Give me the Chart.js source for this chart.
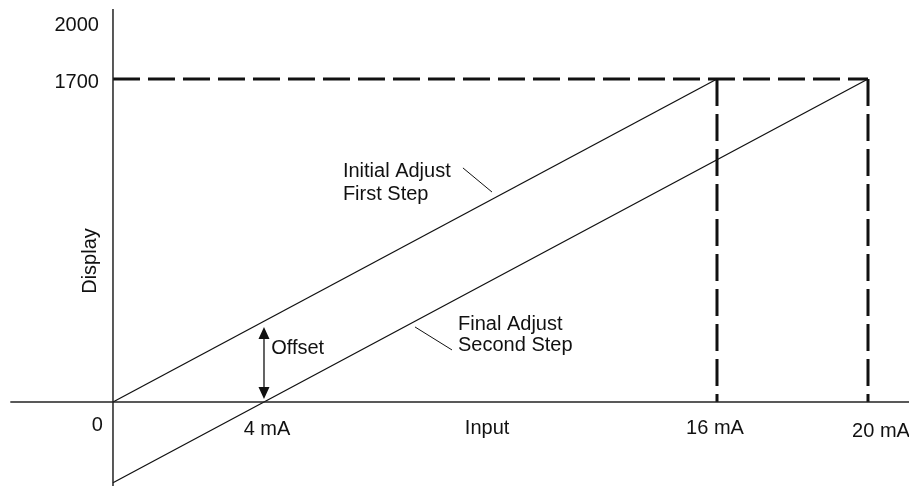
<!DOCTYPE html>
<html>
<head>
<meta charset="utf-8">
<title>Display vs Input</title>
<script src="https://cdn.jsdelivr.net/npm/chart.js@4/dist/chart.umd.min.js"></script>
<style>
  html, body { margin: 0; padding: 0; background: #fff; }
  #chart { display: block; }
</style>
</head>
<body>
<canvas id="chart" width="909" height="486"></canvas>
<script>
// ── Data (input in mA, display counts) ───────────────────────────────────────
const initialAdjust = [{ x: 0, y: 0 }, { x: 16, y: 1700 }];
const finalAdjust = [{ x: 0, y: -425 }, { x: 4, y: 0 }, { x: 20, y: 1700 }];
const spanLine = [{ x: 0, y: 1700 }, { x: 20, y: 1700 }];
const drop16 = [{ x: 16, y: 1700 }, { x: 16, y: 0 }];
const drop20 = [{ x: 20, y: 1700 }, { x: 20, y: 0 }];
const yAxisLine = [{ x: 0, y: -442 }, { x: 0, y: 2068 }];
const xAxisLine = [{ x: -2.72, y: 0 }, { x: 21.1, y: 0 }];

const yTickValues = [2000, 1700];
const xTickValues = [4, 16, 20];
const xTickLabels = ['4 mA', '16 mA', '20 mA'];

// callout leaders and notes, in data units
const leaderInitial = [{ x: 9.27, y: 1232 }, { x: 10.04, y: 1105 }];
const leaderFinal = [{ x: 8.0, y: 395 }, { x: 8.98, y: 274 }];
const offsetArrow = { x: 4, top: 395, bottom: 16 };
const notes = [
  { x: 6.09, y: 1184, text: 'Initial Adjust' },
  { x: 6.09, y: 1063, text: 'First Step' },
  { x: 9.14, y: 379, text: 'Final Adjust' },
  { x: 9.14, y: 268, text: 'Second Step' },
  { x: 4.19, y: 253, text: 'Offset' },
];

const FONT = '20px "Liberation Sans", Arial, sans-serif';
const INK = '#111';

// ── Text, ticks and arrow drawn on top of the plot ───────────────────────────
const overlay = {
  id: 'overlay',
  afterDatasetsDraw(chart) {
    const { ctx, scales: { x, y } } = chart;
    const x0 = x.getPixelForValue(0);
    const y0 = y.getPixelForValue(0);
    ctx.save();
    ctx.font = FONT;
    ctx.fillStyle = INK;

    // y ticks
    ctx.textAlign = 'right';
    ctx.textBaseline = 'middle';
    yTickValues.forEach((v) => ctx.fillText(String(v), x0 - 14, y.getPixelForValue(v) + 3));

    // origin and x ticks
    ctx.textBaseline = 'alphabetic';
    ctx.fillText('0', x0 - 10, y0 + 29);
    ctx.textAlign = 'center';
    const nudge = { 4: 3, 16: -2, 20: 13 };
    const drop = { 4: 33, 16: 32, 20: 35 };
    xTickValues.forEach((v, i) => {
      ctx.fillText(xTickLabels[i], x.getPixelForValue(v) + nudge[v], y0 + drop[v]);
    });
    ctx.fillText('Input', x.getPixelForValue(9.91), y0 + 32);

    // y title
    ctx.save();
    ctx.translate(x0 - 23, y.getPixelForValue(742));
    ctx.rotate(-Math.PI / 2);
    ctx.textBaseline = 'middle';
    ctx.fillText('Display', 0, 0);
    ctx.restore();

    // callout notes
    ctx.textAlign = 'left';
    ctx.textBaseline = 'alphabetic';
    notes.forEach((n) => ctx.fillText(n.text, x.getPixelForValue(n.x), y.getPixelForValue(n.y)));

    // offset double arrow
    const ax = x.getPixelForValue(offsetArrow.x);
    const at = y.getPixelForValue(offsetArrow.top);
    const ab = y.getPixelForValue(offsetArrow.bottom);
    ctx.strokeStyle = INK;
    ctx.lineWidth = 1.3;
    ctx.beginPath();
    ctx.moveTo(ax, at + 8);
    ctx.lineTo(ax, ab - 8);
    ctx.stroke();
    ctx.beginPath();
    ctx.moveTo(ax, at);
    ctx.lineTo(ax - 5.5, at + 12);
    ctx.lineTo(ax + 5.5, at + 12);
    ctx.closePath();
    ctx.moveTo(ax, ab);
    ctx.lineTo(ax - 5.5, ab - 12);
    ctx.lineTo(ax + 5.5, ab - 12);
    ctx.closePath();
    ctx.fill();
    ctx.restore();
  },
};

const line = (data, extra) => Object.assign({
  data, showLine: true, borderColor: INK, borderWidth: 1.3,
  pointRadius: 0, fill: false, clip: false,
}, extra);

new Chart(document.getElementById('chart'), {
  type: 'scatter',
  data: {
    datasets: [
      line(yAxisLine, { borderColor: '#222', borderWidth: 1.5 }),
      line(xAxisLine, { borderColor: '#222', borderWidth: 1.5 }),
      line(initialAdjust),
      line(finalAdjust),
      line(spanLine, { borderWidth: 3, borderDash: [27, 8] }),
      line(drop16, { borderWidth: 3, borderDash: [27, 8] }),
      line(drop20, { borderWidth: 3, borderDash: [27, 8] }),
      line(leaderInitial, { borderWidth: 1 }),
      line(leaderFinal, { borderWidth: 1 }),
    ],
  },
  options: {
    responsive: false,
    animation: false,
    devicePixelRatio: 1,
    layout: { padding: 0 },
    plugins: { legend: { display: false }, tooltip: { enabled: false } },
    scales: {
      x: { type: 'linear', display: false, min: -2.993, max: 21.086 },
      y: { type: 'linear', display: false, min: -442.1, max: 2115.8 },
    },
  },
  plugins: [overlay],
});
</script>
</body>
</html>
